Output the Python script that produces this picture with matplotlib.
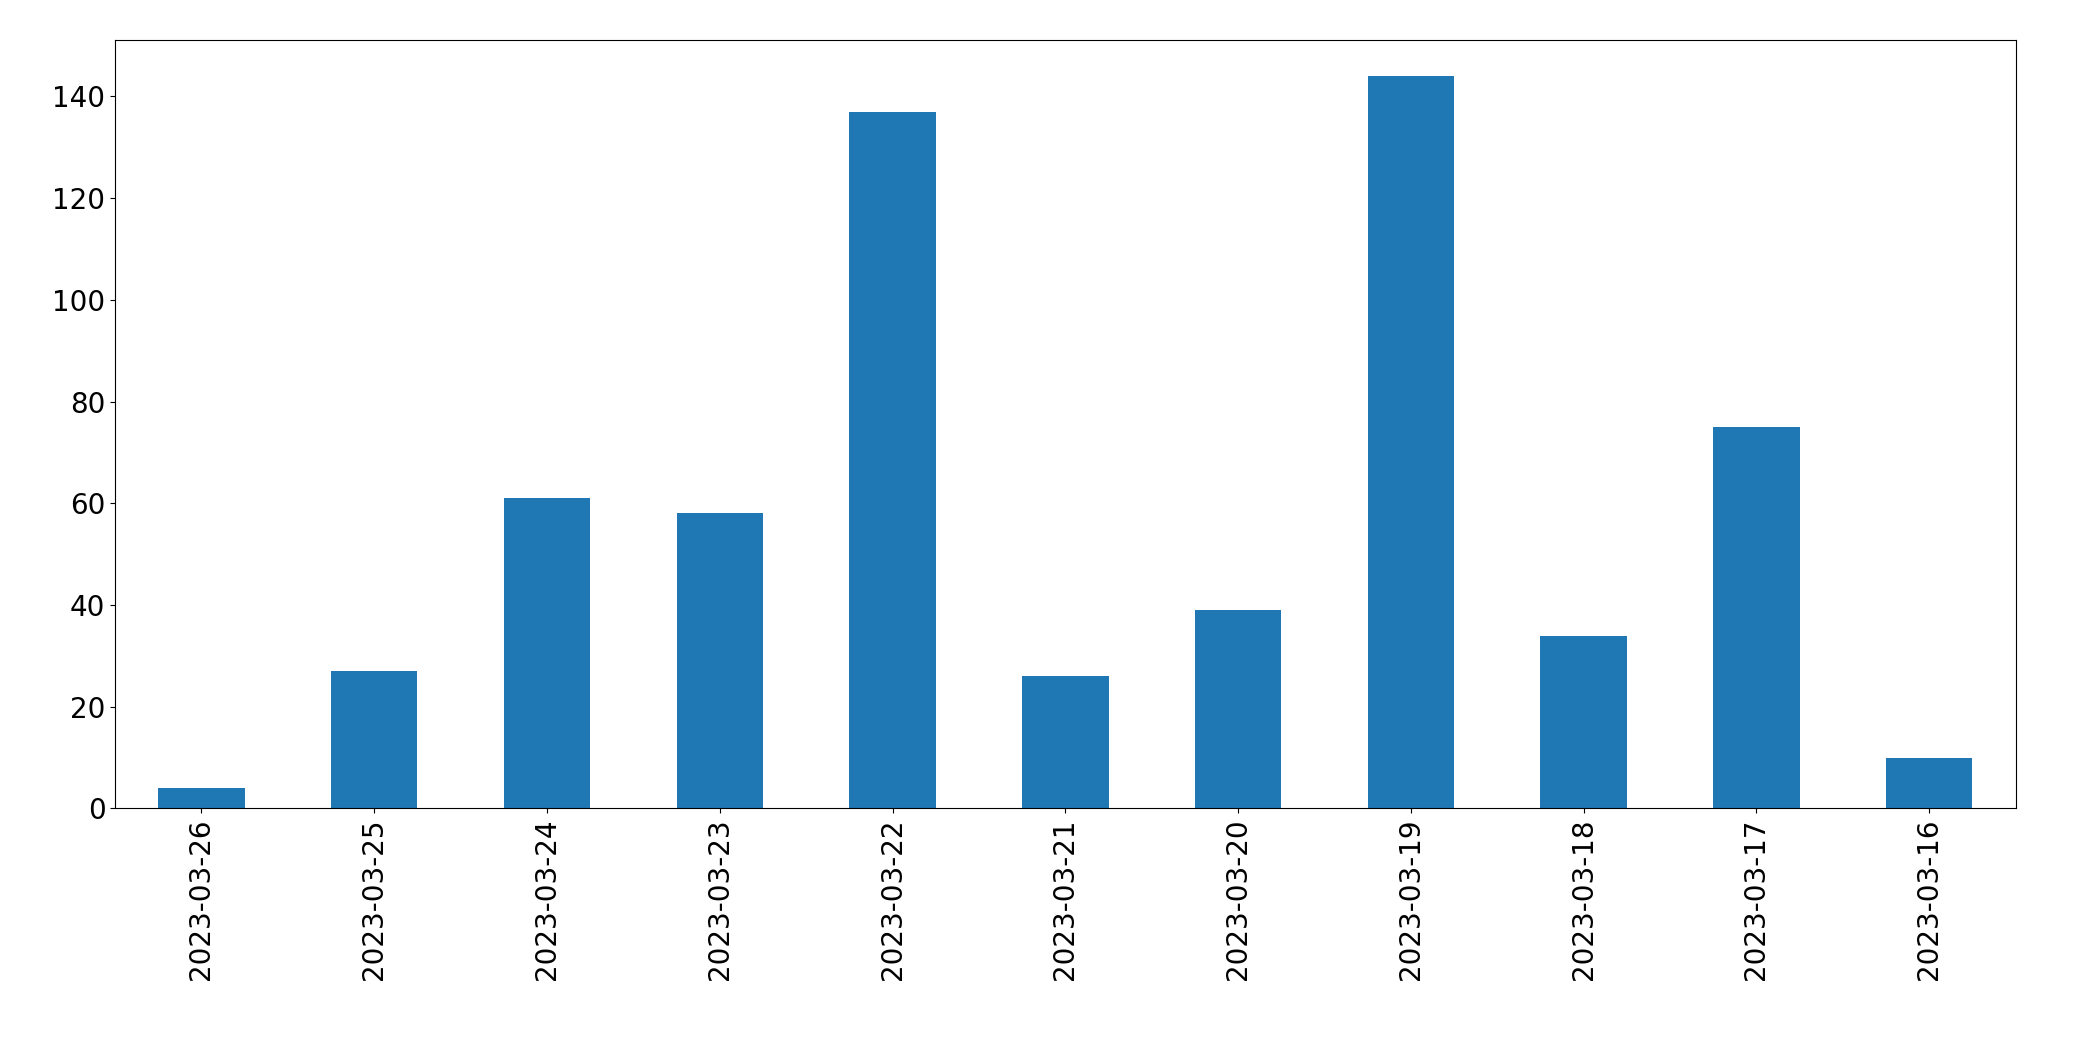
import matplotlib
matplotlib.use("Agg")
import matplotlib.pyplot as plt
import pandas as pd

dates = ["2023-03-26", "2023-03-25", "2023-03-24", "2023-03-23", "2023-03-22",
         "2023-03-21", "2023-03-20", "2023-03-19", "2023-03-18", "2023-03-17",
         "2023-03-16"]
counts = [4, 27, 61, 58, 137, 26, 39, 144, 34, 75, 10]

s = pd.Series(counts, index=dates)

fig = plt.figure(figsize=(20.93, 10.61), dpi=100)
ax = fig.add_axes([0.055, 0.238, 0.908, 0.724])
s.plot(kind="bar", ax=ax, color="#1f77b4", width=0.5)
ax.tick_params(axis="both", labelsize=20)
ax.set_ylim(0, 151)
fig.savefig("out.png", dpi=100)
